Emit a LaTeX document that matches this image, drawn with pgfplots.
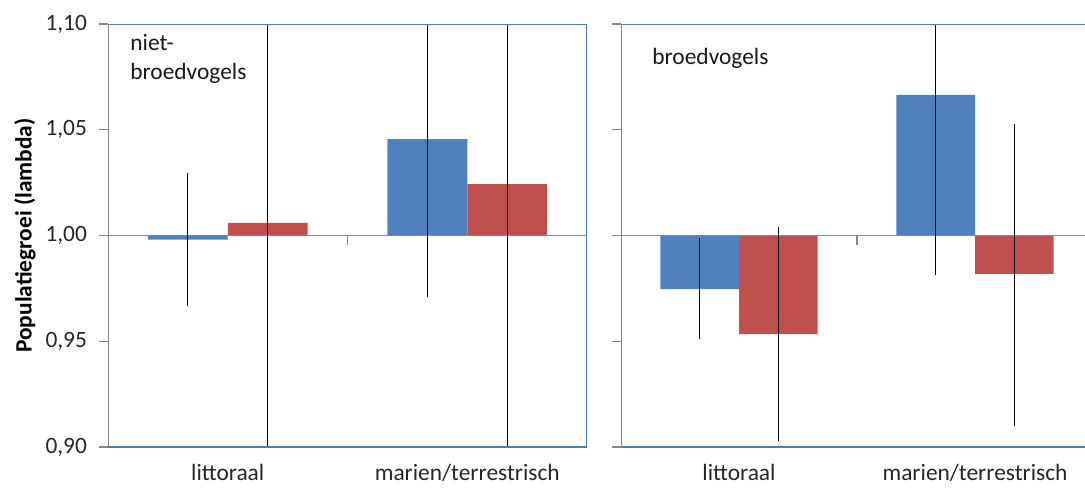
\documentclass[border=0pt]{standalone}
\usepackage{fontspec}
\setmainfont{Carlito}
\usepackage{pgfplots}
\pgfplotsset{compat=1.18}
\definecolor{xlblue}{RGB}{79,129,189}
\definecolor{xlred}{RGB}{192,80,77}
\definecolor{frameblue}{RGB}{74,126,187}
\definecolor{axgray}{RGB}{134,134,134}
\newcommand{\chartfont}{\fontsize{11.7}{14}\selectfont}
\pgfplotsset{
  panel/.style={
    scale only axis, height=211.5pt,
    xmin=-0.5, xmax=1.5, ymin=-0.1, ymax=0.1,
    y filter/.expression={y-1},
    axis line style={draw=none},
    xtick={0,1}, xticklabels={littoraal, marien/terrestrisch},
    x tick style={draw=none},
    xticklabel style={yshift=-0.5pt},
    ytick={-0.1,-0.05,0,0.05,0.1},
    ytick pos=left, tick align=outside, major tick length=4.5pt,
    y tick style={axgray, line width=0.6pt},
    yticklabel style={xshift=-2.5pt},
    ticklabel style={font=\chartfont, text=black!85},
    anchor=south west,
  },
  barblue/.style={ybar, bar width=0.3333, bar shift=-0.16667, fill=xlblue, draw=none},
  barred/.style={ybar, bar width=0.3333, bar shift=0.16667, fill=xlred, draw=none},
  err/.style={black, line width=0.55pt, mark=none},
}
\begin{document}
\begin{tikzpicture}
% ---------- left panel: niet-broedvogels ----------
\begin{axis}[panel, at={(54pt,20.5pt)}, width=239.5pt,
  yticklabels={{0,90},{0,95},{1,00},{1,05},{1,10}}]
\addplot[barblue] coordinates {(0,0.998) (1,1.0456)};
\addplot[barred]  coordinates {(0,1.006) (1,1.0243)};
\draw[axgray, line width=0.6pt] (rel axis cs:0,0.5) -- (rel axis cs:1,0.5);
\draw[axgray, line width=0.6pt] (rel axis cs:0.5,0.5) -- ([yshift=-4.5pt]rel axis cs:0.5,0.5);
\addplot[err] coordinates {(-0.16667,0.9667) (-0.16667,1.0297)};
\addplot[err] coordinates {(0.16667,0.87) (0.16667,1.13)};
\addplot[err] coordinates {(0.83333,0.9708) (0.83333,1.13)};
\addplot[err] coordinates {(1.16667,0.87) (1.16667,1.13)};
\draw[frameblue, line width=0.6pt] (rel axis cs:0,0) -- (rel axis cs:1,0) -- (rel axis cs:1,1) -- (rel axis cs:0,1);
\draw[axgray, line width=0.6pt] (rel axis cs:0,0) -- (rel axis cs:0,1);
\end{axis}
% ---------- right panel: broedvogels ----------
\begin{axis}[panel, at={(310.5pt,20.5pt)}, width=236pt,
  yticklabels={}]
\addplot[barblue] coordinates {(0,0.9747) (1,1.0665)};
\addplot[barred]  coordinates {(0,0.9534) (1,0.9818)};
\draw[axgray, line width=0.6pt] (rel axis cs:0,0.5) -- (rel axis cs:1,0.5);
\draw[axgray, line width=0.6pt] (rel axis cs:0.5,0.5) -- ([yshift=-4.5pt]rel axis cs:0.5,0.5);
\addplot[err] coordinates {(-0.16667,0.9513) (-0.16667,0.9986)};
\addplot[err] coordinates {(0.16667,0.9028) (0.16667,1.0039)};
\addplot[err] coordinates {(0.83333,0.9814) (0.83333,1.13)};
\addplot[err] coordinates {(1.16667,0.9100) (1.16667,1.0529)};
\draw[frameblue, line width=0.6pt] (rel axis cs:0,0) -- (rel axis cs:1,0) -- (rel axis cs:1,1) -- (rel axis cs:0,1);
\draw[axgray, line width=0.6pt] (rel axis cs:0,0) -- (rel axis cs:0,1);
\end{axis}
% ---------- texts ----------
\node[anchor=base west, font=\chartfont, text=black!90, inner sep=0pt] at (65pt,218.7pt) {niet-};
\node[anchor=base west, font=\chartfont, text=black!90, inner sep=0pt] at (65pt,204pt) {broedvogels};
\node[anchor=base west, font=\chartfont, text=black!90, inner sep=0pt] at (326pt,211.5pt) {broedvogels};
\node[rotate=90, font=\chartfont\bfseries, text=black] at (12.5pt,126.25pt) {Populatiegroei (lambda)};
\pgfresetboundingbox
\path[use as bounding box] (0,0) rectangle (542.5pt,244pt);
\end{tikzpicture}
\end{document}
